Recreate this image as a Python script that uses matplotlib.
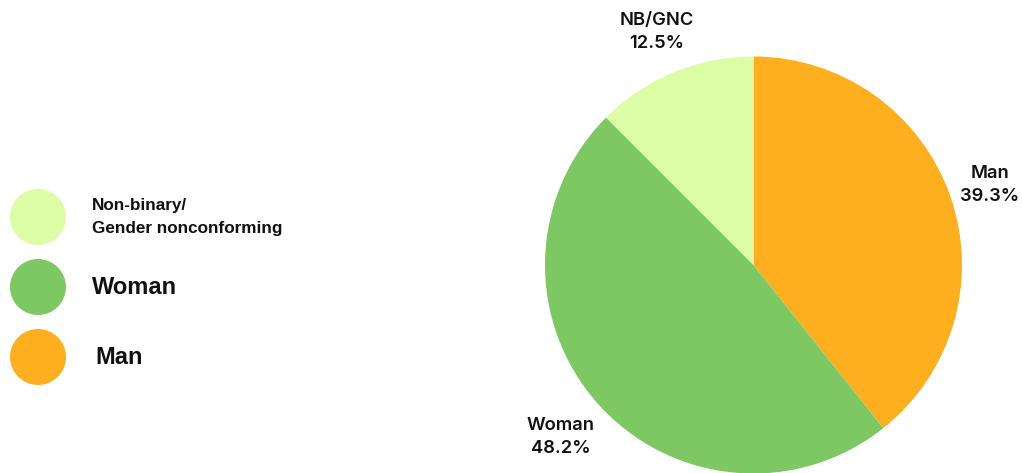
import matplotlib

matplotlib.use("Agg")
import matplotlib.pyplot as plt
from matplotlib.patches import Circle

# data
categories = ["Man", "Woman", "NB/GNC"]
shares = [39.3, 48.2, 12.5]
colors = ["#FDAF1F", "#7DC862", "#DDFCA6"]

legend_labels = ["Non-binary/\nGender nonconforming", "Woman", "Man"]
legend_colors = ["#DDFCA6", "#7DC862", "#FDAF1F"]

W, H = 1022, 473
fig = plt.figure(figsize=(W / 100, H / 100), dpi=100)
ax = fig.add_axes([0, 0, 1, 1])

plt.rcParams["font.family"] = ["Inter", "DejaVu Sans"]

# pie, centred at pixel (753, 265) from the top
ax.pie(shares, colors=colors, startangle=90, counterclock=False,
       center=(753.5, H - 265), radius=208.5, frame=True,
       wedgeprops=dict(linewidth=0))
ax.set_xlim(0, W)
ax.set_ylim(0, H)
ax.set_aspect("equal")
ax.axis("off")

# slice labels
label_pos = {"NB/GNC": (657, 32), "Man": (990, 185), "Woman": (561, 437)}
for name, val in zip(categories, shares):
    x, y = label_pos[name]
    ax.text(x, H - y, f"{name}\n{val}%", ha="center", va="center",
            fontsize=13.2, fontweight="semibold", color="#111111",
            linespacing=1.45)

# legend
leg_font = ["Liberation Sans", "DejaVu Sans"]
for i, (lab, col) in enumerate(zip(legend_labels, legend_colors)):
    cy = H - (217 + 70 * i)
    ax.add_patch(Circle((38, cy), 28, color=col, lw=0))
    if i == 0:
        ax.text(92, cy, lab, ha="left", va="center", fontsize=12.3,
                fontweight="bold", color="#111111", linespacing=1.6,
                family=leg_font)
    else:
        ax.text(92 + 3 * (i == 2), cy, lab, ha="left", va="center",
                fontsize=17, fontweight="bold", color="#111111",
                family=leg_font)

fig.savefig("out.png", dpi=100)
